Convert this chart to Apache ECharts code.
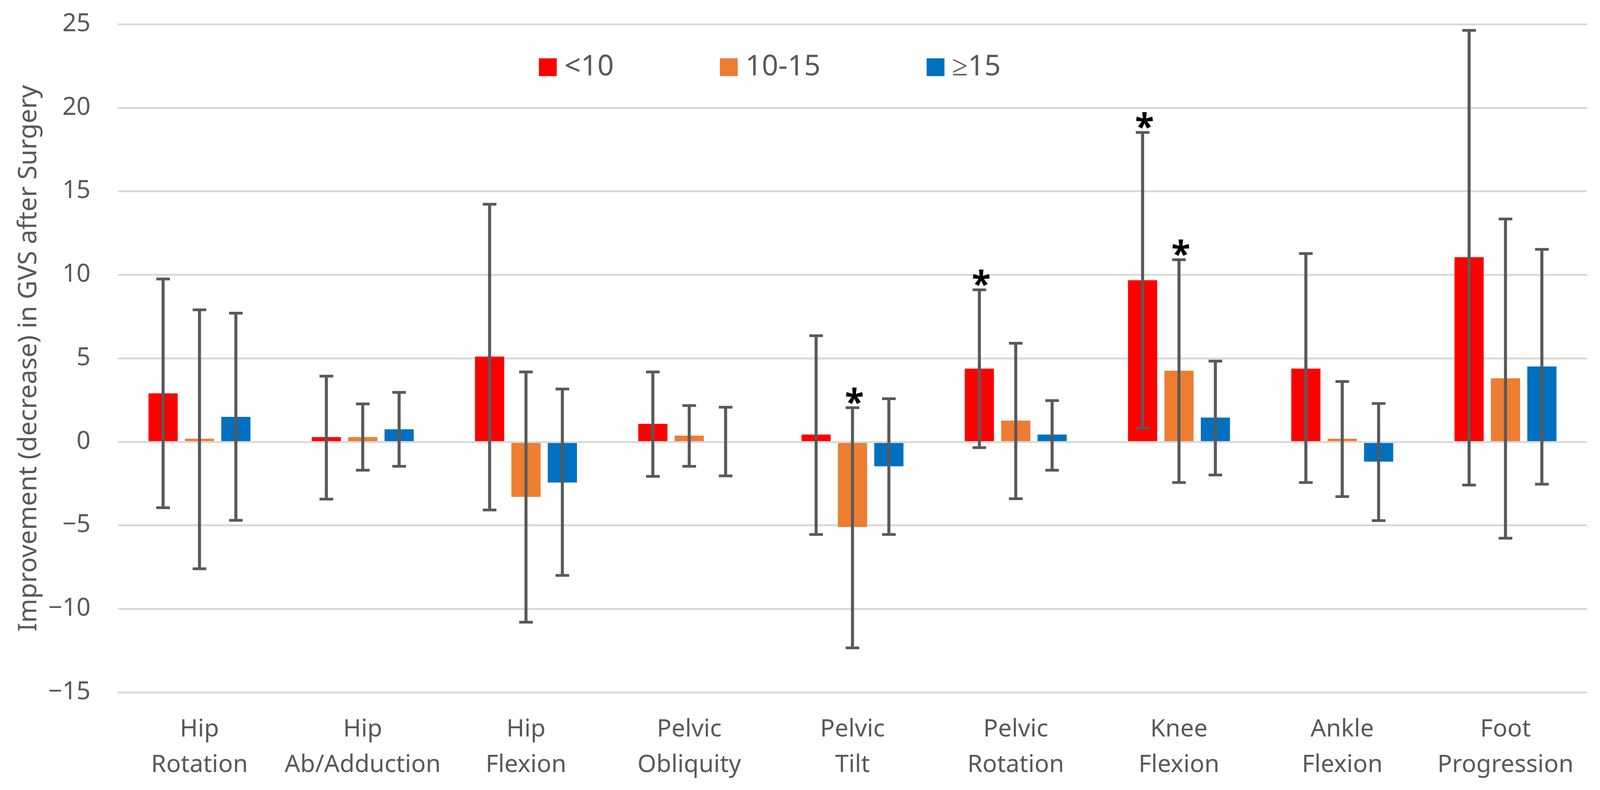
<!DOCTYPE html>
<html>
<head>
<meta charset="utf-8">
<script src="https://cdn.jsdelivr.net/npm/echarts@6/dist/echarts.min.js"></script>
<style>
html,body{margin:0;padding:0;background:#fff;overflow:hidden;width:100%;height:100%;}
#chart{width:100vw;height:100vh;}
</style>
</head>
<body>
<div id="chart"></div>
<script>
const categories = ['Hip\nRotation','Hip\nAb/Adduction','Hip\nFlexion','Pelvic\nObliquity','Pelvic\nTilt','Pelvic\nRotation','Knee\nFlexion','Ankle\nFlexion','Foot\nProgression'];
const seriesNames = ['<10', '10-15', '≥15'];

const lt10     = [2.9, 0.28, 5.1, 1.07, 0.43, 4.38, 9.67, 4.38, 11.05];
const lt10Low  = [-3.95, -3.43, -4.08, -2.07, -5.55, -0.35, 0.82, -2.44, -2.59];
const lt10High = [9.75, 3.93, 14.22, 4.18, 6.35, 9.1, 18.52, 11.27, 24.63];
const lt10Sig  = [0, 0, 0, 0, 0, 1, 1, 0, 0];

const mid      = [0.18, 0.28, -3.3, 0.37, -5.1, 1.27, 4.25, 0.18, 3.8];
const midLow   = [-7.6, -1.7, -10.8, -1.47, -12.34, -3.41, -2.44, -3.28, -5.77];
const midHigh  = [7.9, 2.27, 4.18, 2.17, 2.04, 5.9, 10.9, 3.61, 13.34];
const midSig   = [0, 0, 0, 0, 1, 0, 1, 0, 0];

const ge15     = [1.49, 0.75, -2.44, 0.0, -1.47, 0.43, 1.45, -1.19, 4.51];
const ge15Low  = [-4.7, -1.47, -8.0, -2.04, -5.55, -1.7, -1.99, -4.72, -2.54];
const ge15High = [7.7, 2.96, 3.16, 2.07, 2.58, 2.47, 4.83, 2.29, 11.52];
const ge15Sig  = [0, 0, 0, 0, 0, 0, 0, 0, 0];

const yTicks = {min: -15, max: 25, interval: 5};

const colors = ['#FF0000', '#ED7D31', '#0070C0'];
const FONT = 'Noto Sans';

// design is for a 4222 x 2022 canvas; scale to the actual viewport
const W = window.innerWidth, H = window.innerHeight;
const SX = W / 4222, SY = H / 2022, SF = Math.min(SX, SY);
const px = v => v * SX, py = v => v * SY, pf = v => v * SF;

const BAR_W = px(77);
const BAR_GAP = px(19);
const offsets = [-(BAR_W + BAR_GAP), 0, (BAR_W + BAR_GAP)];

function errData(lo, hi, sig) {
  return lo.map((v, i) => [i, v, hi[i], sig[i]]);
}

function makeErr(idx, lo, hi, sig) {
  return {
    type: 'custom',
    name: seriesNames[idx] + ' err',
    z: 10,
    silent: true,
    data: errData(lo, hi, sig),
    encode: {x: 0, y: [1, 2]},
    renderItem: function (params, api) {
      const c = api.value(0);
      const pTop = api.coord([c, api.value(2)]);
      const pBot = api.coord([c, api.value(1)]);
      const x = pTop[0] + offsets[idx];
      const capHalf = px(18);
      const children = [
        {type: 'line', shape: {x1: x, y1: pTop[1], x2: x, y2: pBot[1]}, style: {stroke: '#595959', lineWidth: px(8)}},
        {type: 'line', shape: {x1: x - capHalf, y1: pTop[1], x2: x + capHalf, y2: pTop[1]}, style: {stroke: '#595959', lineWidth: py(7)}},
        {type: 'line', shape: {x1: x - capHalf, y1: pBot[1], x2: x + capHalf, y2: pBot[1]}, style: {stroke: '#595959', lineWidth: py(7)}}
      ];
      if (api.value(3)) {
        children.push({
          type: 'text',
          style: {
            text: '*', x: x + px(5), y: pTop[1] - py(9),
            fill: '#000', font: 'bold ' + pf(92) + 'px "' + FONT + '"',
            textAlign: 'center', textVerticalAlign: 'middle'
          }
        });
      }
      return {type: 'group', children: children};
    }
  };
}

function makeBar(idx, vals) {
  const s = {
    type: 'bar',
    name: seriesNames[idx],
    data: vals,
    barWidth: BAR_W,
    barGap: (19 / 77 * 100).toFixed(1) + '%',
    itemStyle: {color: colors[idx]},
    z: 2
  };
  if (idx === 0) {
    s.markLine = {
      silent: true, symbol: 'none', z: 5,
      label: {show: false},
      lineStyle: {color: '#D9D9D9', width: py(5), type: 'solid'},
      data: [{yAxis: 0}]
    };
  }
  return s;
}

const chart = echarts.init(document.getElementById('chart'));
chart.setOption({
  backgroundColor: '#fff',
  animation: false,
  grid: {left: px(311), right: px(34), top: py(62), bottom: py(250), containLabel: false},
  legend: {
    data: seriesNames,
    left: px(1417), top: py(130),
    icon: 'rect', itemWidth: pf(47), itemHeight: pf(47), itemGap: px(280),
    textStyle: {fontFamily: FONT, fontSize: pf(76), color: '#595959', padding: [0, 0, 0, px(15)]}
  },
  xAxis: {
    type: 'category',
    data: categories,
    axisLine: {show: false},
    axisTick: {show: false},
    splitLine: {show: false},
    axisLabel: {
      interval: 0, margin: py(50),
      fontFamily: FONT, fontSize: pf(64), color: '#595959', lineHeight: py(91)
    }
  },
  yAxis: {
    type: 'value',
    min: yTicks.min, max: yTicks.max, interval: yTicks.interval,
    name: 'Improvement (decrease) in GVS after Surgery',
    nameLocation: 'middle', nameGap: px(200), nameRotate: 90,
    nameTextStyle: {fontFamily: FONT, fontSize: pf(68), color: '#595959'},
    axisLine: {show: false},
    axisTick: {show: false},
    axisLabel: {
      margin: px(72), fontFamily: FONT, fontSize: pf(65), color: '#595959',
      formatter: v => String(v).replace('-', '\u2212')
    },
    splitLine: {lineStyle: {color: '#D9D9D9', width: py(5)}}
  },
  series: [
    makeBar(0, lt10), makeBar(1, mid), makeBar(2, ge15),
    makeErr(0, lt10Low, lt10High, lt10Sig),
    makeErr(1, midLow, midHigh, midSig),
    makeErr(2, ge15Low, ge15High, ge15Sig)
  ]
});
</script>
</body>
</html>
